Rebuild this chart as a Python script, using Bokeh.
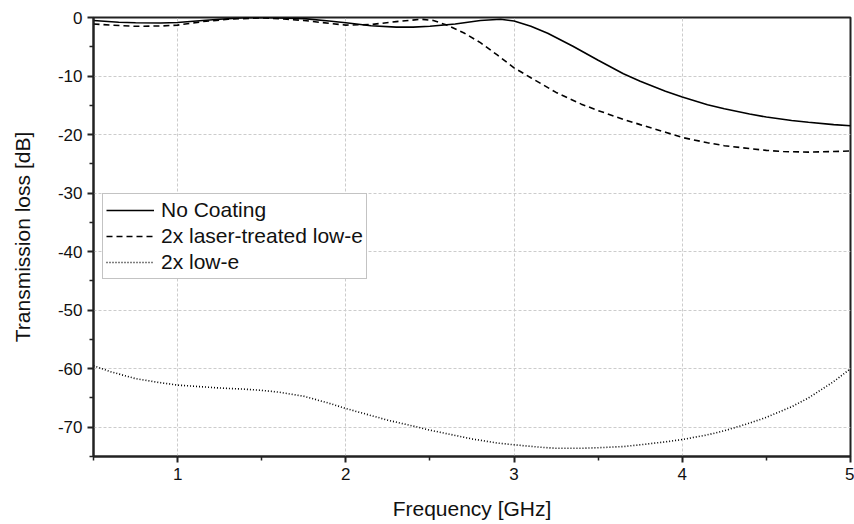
from bokeh.plotting import figure
from bokeh.models import Range1d, FixedTicker, Legend, LegendItem, CustomJSTickFormatter
from bokeh.embed import file_html
from bokeh.resources import INLINE

# data
freq_nc = [0.5, 0.65, 0.75, 0.9, 1.0, 1.15, 1.25, 1.4, 1.5, 1.65, 1.75, 1.9, 2.0, 2.15, 2.3, 2.4, 2.5, 2.65, 2.8, 2.92, 3.0, 3.1, 3.2, 3.35, 3.5, 3.65, 3.75, 3.9, 4.0, 4.15, 4.25, 4.4, 4.5, 4.65, 4.75, 4.9, 5.0]
loss_nc = [-0.5, -0.8, -0.9, -0.95, -0.85, -0.5, -0.3, -0.05, 0.0, -0.1, -0.2, -0.6, -0.9, -1.4, -1.65, -1.65, -1.5, -1.1, -0.5, -0.3, -0.6, -1.5, -2.7, -4.9, -7.3, -9.6, -10.9, -12.6, -13.6, -14.9, -15.6, -16.5, -17.0, -17.6, -17.9, -18.3, -18.5]

freq_lt = [0.5, 0.6, 0.75, 0.9, 1.0, 1.15, 1.3, 1.5, 1.65, 1.75, 1.9, 2.0, 2.15, 2.3, 2.45, 2.52, 2.6, 2.7, 2.8, 2.9, 3.0, 3.1, 3.25, 3.4, 3.5, 3.65, 3.75, 3.9, 4.0, 4.15, 4.25, 4.4, 4.5, 4.6, 4.75, 4.9, 5.0]
loss_lt = [-1.1, -1.3, -1.5, -1.45, -1.3, -0.7, -0.3, -0.05, -0.3, -0.5, -1.0, -1.3, -1.2, -0.7, -0.3, -0.5, -1.3, -2.6, -4.3, -6.4, -8.6, -10.3, -12.8, -14.8, -15.9, -17.4, -18.3, -19.6, -20.5, -21.4, -21.9, -22.4, -22.7, -22.9, -23.0, -22.9, -22.8]

freq_le = [0.5, 0.6, 0.75, 0.9, 1.0, 1.15, 1.25, 1.4, 1.5, 1.6, 1.75, 1.9, 2.0, 2.15, 2.25, 2.4, 2.5, 2.65, 2.75, 2.9, 3.0, 3.15, 3.25, 3.4, 3.5, 3.65, 3.75, 3.9, 4.0, 4.15, 4.25, 4.4, 4.5, 4.65, 4.75, 4.9, 5.0]
loss_le = [-59.5, -60.5, -61.7, -62.4, -62.8, -63.1, -63.3, -63.5, -63.7, -64.0, -64.7, -65.9, -66.8, -68.0, -68.8, -69.8, -70.5, -71.4, -72.0, -72.7, -73.0, -73.4, -73.6, -73.6, -73.5, -73.3, -73.0, -72.5, -72.1, -71.3, -70.6, -69.3, -68.3, -66.5, -65.0, -62.2, -60.0]

x_major = [1, 2, 3, 4, 5]
x_minor = [0.5, 1.5, 2.5, 3.5, 4.5]
y_major = [-70, -60, -50, -40, -30, -20, -10, 0]
y_minor = [-75, -65, -55, -45, -35, -25, -15, -5]

FONT = "Liberation Sans"

p = figure(width=854, height=524, output_backend="svg", toolbar_location=None,
           x_range=Range1d(0.5, 5), y_range=Range1d(-75, 0),
           min_border_left=93, min_border_right=4, min_border_top=17, min_border_bottom=68)

p.background_fill_color = "white"
p.border_fill_color = "white"
p.outline_line_color = "#222222"
p.outline_line_width = 2

p.xaxis.ticker = FixedTicker(ticks=x_major, minor_ticks=x_minor)
p.yaxis.ticker = FixedTicker(ticks=y_major, minor_ticks=y_minor)
p.xaxis.formatter = CustomJSTickFormatter(code="return String(tick);")
p.yaxis.formatter = CustomJSTickFormatter(code="return String(tick);")
p.xaxis.axis_label = "Frequency [GHz]"
p.yaxis.axis_label = "Transmission loss [dB]"
for ax in (p.xaxis, p.yaxis):
    ax.axis_label_text_font = FONT
    ax.axis_label_text_font_size = "21px"
    ax.axis_label_text_font_style = "normal"
    ax.axis_label_text_color = "#111111"
    ax.major_label_text_font = FONT
    ax.major_label_text_font_size = "17px"
    ax.major_label_text_color = "#111111"
    ax.axis_line_width = 2
    ax.axis_line_color = "#222222"
    ax.major_tick_line_width = 2
    ax.major_tick_line_color = "#222222"
    ax.minor_tick_line_color = "#222222"
    ax.minor_tick_line_width = 1.5
    ax.major_tick_in = 0
    ax.major_tick_out = 6
    ax.minor_tick_in = 0
    ax.minor_tick_out = 4
p.xaxis.axis_label_standoff = 14
p.yaxis.axis_label_standoff = 21

p.xgrid.grid_line_color = "#cccccc"
p.ygrid.grid_line_color = "#cccccc"
p.xgrid.grid_line_dash = "3 2"
p.ygrid.grid_line_dash = "3 2"
p.xgrid.grid_line_width = 1
p.ygrid.grid_line_width = 1

r1 = p.line(freq_nc, loss_nc, line_color="black", line_width=1.6)
r2 = p.line(freq_lt, loss_lt, line_color="black", line_width=1.6, line_dash="6 4")
r3 = p.line(freq_le, loss_le, line_color="black", line_width=1.6, line_dash="1 2")

legend = Legend(items=[LegendItem(label="No Coating", renderers=[r1]),
                       LegendItem(label="2x laser-treated low-e", renderers=[r2]),
                       LegendItem(label="2x low-e", renderers=[r3])],
                location=(9, 177))
legend.label_text_font = FONT
legend.label_text_font_size = "21px"
legend.label_text_color = "#111111"
legend.border_line_color = "#888888"
legend.border_line_width = 1
legend.background_fill_alpha = 1
legend.glyph_width = 48
legend.glyph_height = 26
legend.label_height = 26
legend.spacing = 0
legend.padding = 3
legend.margin = 0
legend.label_standoff = 7
p.add_layout(legend, "center")

open("out.html", "w").write(file_html(p, INLINE))
